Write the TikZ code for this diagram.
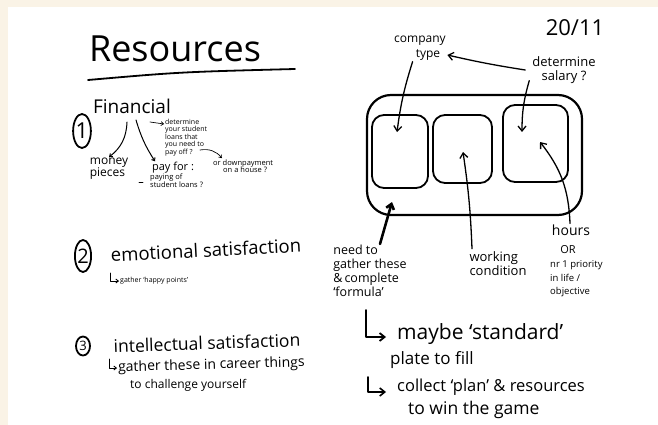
\documentclass[tikz,border=0pt]{standalone}
\usepackage{fontspec}
\setmainfont{Open Sans}
\usetikzlibrary{arrows.meta,calc,shapes.geometric}
\definecolor{paper}{HTML}{FAF3E6}
\begin{document}
\begin{tikzpicture}[x=1pt,y=-1pt,
  ink/.style={draw=black, line cap=round, line join=round},
  tip/.style={-{Straight Barb[length=5pt,width=8pt]}},
  smalltip/.style={-{Straight Barb[length=2.5pt,width=4pt]}},
  txt/.style={inner sep=1pt, align=left, text=black},
  fs/.style 2 args={font=\fontsize{#1}{#2}\selectfont},
  num/.style={ink, ellipse, line width=1.8pt, inner sep=0pt, text=black},
  slot/.style={ink, line width=1.8pt, rounded corners=12pt},
]
% sheet
\fill[paper] (0,0) rectangle (658,425);
\fill[white] (8,7) rectangle (658,425);
\useasboundingbox (0,0) rectangle (658,425);

% ---------- left column: resources ----------
\node[txt, fs={36}{40}] (title) at (175,49) {Resources};
\draw[ink, line width=1.8pt] (88,80) .. controls (180,72) .. (295,69);

% 1. financial
\node[num, minimum width=16pt, minimum height=34pt, fs={22}{22}] (n1) at (82,131) {1};
\node[txt, fs={19}{20}] (fin) at (132,106) {Financial};
\node[txt, fs={12}{12}] (money) at (109,169) {money\\pieces};
\node[txt, fs={11}{12}] (payfor) at (173,168) {pay for :};
\node[txt, fs={2}{2}, inner sep=0pt] (dash) at (141,182) {};
\draw[ink, line width=0.8pt] ($(dash)+(-2,0)$) -- ($(dash)+(2,0)$);
\node[txt, fs={7.5}{8}, anchor=west] (paying) at (149,181) {paying of\\student loans ?};
\node[txt, fs={7}{6.8}, anchor=west] (det) at (164,138) {determine\\your student\\loans that\\you need to\\pay off ?};
\node[txt, fs={7.5}{7.5}, anchor=west] (house) at (212,166) {or downpayment\\\hspace{10pt}on a house ?};

\coordinate (f1) at (127,122);
\coordinate (f2) at (136,120);
\coordinate (f3) at (150,122);
\coordinate (f4) at (200,150);
\draw[ink, line width=1pt, smalltip] (f1) to[bend left=25] (money.north);
\draw[ink, line width=1pt, smalltip] (f2) to[bend right=8] ([xshift=-18pt]payfor.north);
\draw[ink, line width=0.7pt, smalltip] (f3) -- (det.north west |- 0,124);
\draw[ink, line width=0.7pt, smalltip] (f4) to[bend left=30] ([xshift=10pt]house.north west);

% 2. emotional satisfaction
\node[num, minimum width=14pt, minimum height=32pt, fs={20}{20}] (n2) at (83,256) {2};
\node[txt, fs={18.5}{19}, rotate=3] (emo) at (206,250) {emotional satisfaction};
\node[txt, fs={7}{7}, anchor=west] (happy) at (119,281) {gather `happy points'};
\draw[ink, line width=0.9pt, smalltip] ($(happy.west)+(-9,-8)$) |- (happy.west);

% 3. intellectual satisfaction
\node[txt, fs={13}{13}, inner sep=0pt] (d3) at (83,346) {3};
\node[num, minimum width=14pt, minimum height=19pt] (n3) at (d3) {};
\node[txt, fs={17.5}{18}, rotate=2] (intel) at (207,343) {intellectual satisfaction};
\node[txt, fs={14}{14}, anchor=west, rotate=1.5] (career) at (117,368) {gather these in career things};
\node[txt, fs={12}{12}, anchor=west] (challenge) at (129,385) {to challenge yourself};
\draw[ink, line width=0.9pt, smalltip] ($(career.west)+(-8,-9)$) |- (career.west);

% ---------- right column: the plate ----------
\node[txt, fs={22}{22}] (date) at (575,28) {20/11};
\node[txt, fs={12}{12}] (company) at (420,41) {company};
\node[txt, fs={12}{12}] (ctype) at (428,55) {type};
\node[txt, fs={13}{14}, align=center] (salary) at (564,70) {determine\\salary ?};

\node[slot, rounded corners=24pt, line width=2.2pt, minimum width=215pt, minimum height=120pt] (frame) at (474.5,155) {};
\node[slot, minimum width=56pt, minimum height=73pt] (box1) at (400,151.5) {};
\node[slot, minimum width=59pt, minimum height=68pt] (box2) at (462.5,149) {};
\node[slot, minimum width=65pt, minimum height=77pt] (box3) at (535.5,143.5) {};

\node[txt, fs={12.5}{14}] (need) at (370,271) {need to\\gather these\\\&\,complete\\`formula'};
\node[txt, fs={13}{14}] (working) at (498,264) {working\\condition};
\node[txt, fs={14}{14}] (hours) at (571,230) {hours};
\node[txt, fs={11}{11}] (orword) at (568,250) {OR};
\node[txt, fs={9.5}{13.5}, anchor=west] (prio) at (549,279) {nr 1 priority\\in life /\\objective};

\coordinate (b1in) at (397,132);
\coordinate (b2in) at (463,152);
\coordinate (b3top) at (522,132);
\coordinate (b3in) at (540,142);
\coordinate (frin) at (392,202);

\draw[ink, line width=1.3pt, tip] ([xshift=-2pt]ctype.south west) to[bend right=5] (b1in);
\draw[ink, line width=1.3pt, tip] ([xshift=-6pt]salary.west) to[bend left=2] ([xshift=6pt]ctype.east);
\draw[ink, line width=1.3pt, tip] ([xshift=-2pt,yshift=4pt]salary.south west) to[bend right=8] (b3top);
\draw[ink, line width=1.3pt, tip] ([xshift=-26pt,yshift=2pt]working.north) to[bend right=3] (b2in);
\draw[ink, line width=1.3pt, tip] ([xshift=-1pt]hours.north) to[bend right=18] (b3in);
\draw[ink, line width=2.6pt, tip] ([xshift=10pt]need.north) -- (frin);

% ---------- notes below ----------
\node[txt, fs={21}{22}, anchor=west] (maybe) at (396,334) {maybe `standard'};
\node[txt, fs={17}{18}, anchor=west] (plate) at (389,360) {plate to fill};
\draw[ink, line width=1.8pt, tip] ($(maybe.west)+(-30,-24)$) |- ($(maybe.west)+(-10,3)$);
\node[txt, fs={16.5}{17}, anchor=west] (collect) at (396,387) {collect `plan' \& resources};
\node[txt, fs={17.5}{18}, anchor=west] (game) at (407,410) {to win the game};
\draw[ink, line width=1.6pt, tip] ($(collect.west)+(-28,-10)$) |- ($(collect.west)+(-10,5)$);
\end{tikzpicture}
\end{document}
